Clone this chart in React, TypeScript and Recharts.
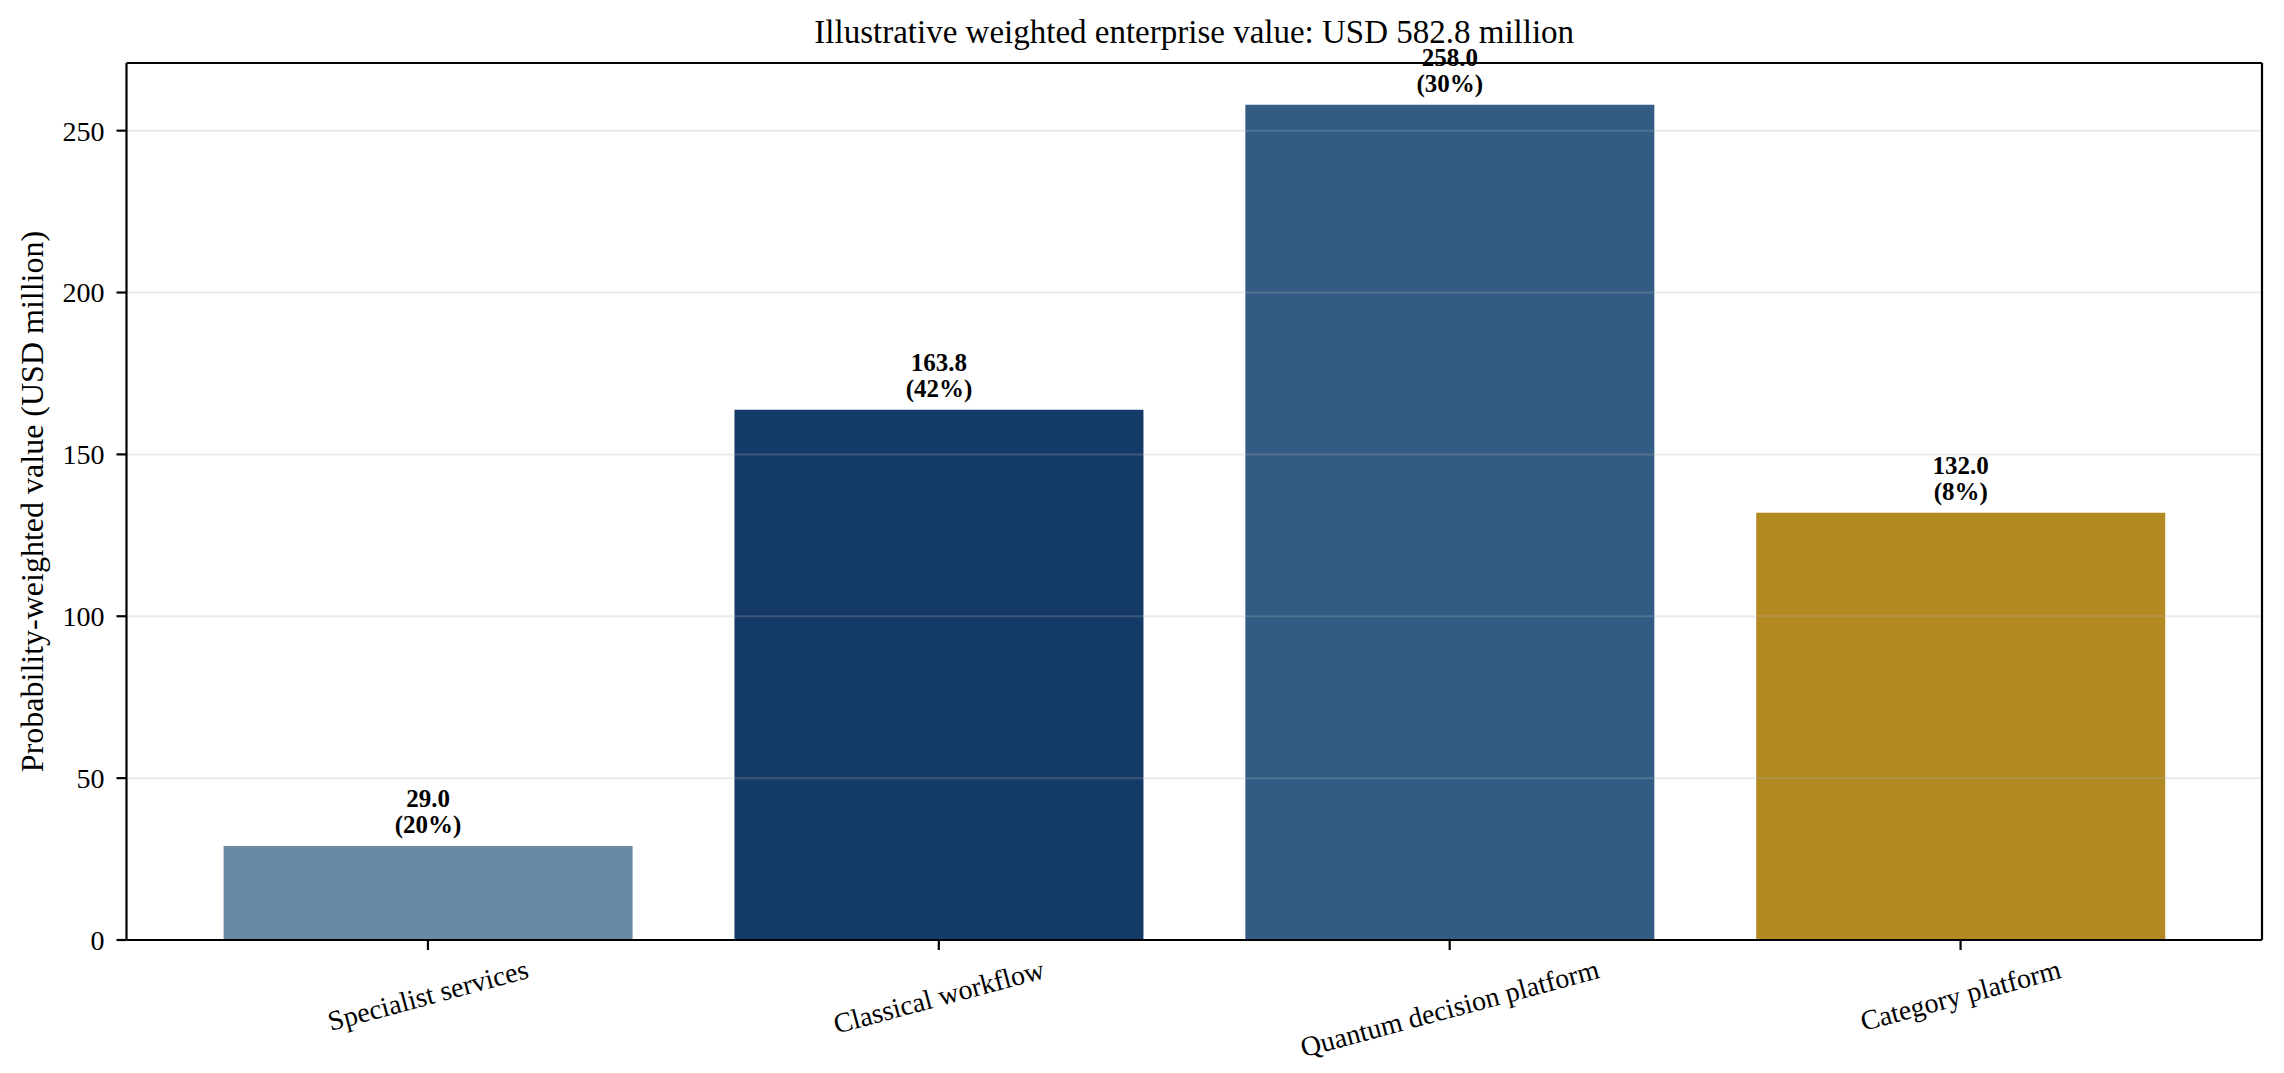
import React from 'react';
import {
  BarChart,
  Bar,
  XAxis,
  YAxis,
  Cell,
  LabelList,
  ReferenceLine,
} from 'recharts';

const categories = [
  'Specialist services',
  'Classical workflow',
  'Quantum decision platform',
  'Category platform',
];
const values = [29.0, 163.8, 258.0, 132.0];
const shares = ['20%', '42%', '30%', '8%'];
const barColors = ['#6a89a5', '#143a67', '#325c84', '#b38922'];
const yTicks = [0, 50, 100, 150, 200, 250];

const title = 'Illustrative weighted enterprise value: USD 582.8 million';
const yLabel = 'Probability-weighted value (USD million)';

const data = categories.map((name, i) => ({ name, value: values[i], share: shares[i] }));

const FONT = '"Liberation Serif", "Times New Roman", serif';
const W = 2284;
const H = 1073;

// matplotlib leaves 5% headroom above the tallest bar
const yMax = Math.max(...values) * 1.05;

let ctx: CanvasRenderingContext2D | null = null;
const textWidth = (s: string, size: number) => {
  if (!ctx) ctx = document.createElement('canvas').getContext('2d');
  if (!ctx) return s.length * size * 0.42;
  ctx.font = `${size}px ${FONT}`;
  return ctx.measureText(s).width;
};

const RotatedTick = (props: any) => {
  const { x, y, payload } = props;
  const size = 28;
  const w = textWidth(String(payload.value), size);
  const rad = (15 * Math.PI) / 180;
  // keep the top of the rotated box just under the tick, like matplotlib
  const cy = y + 5 + (w * Math.sin(rad) + 27) / 2;
  return (
    <text
      x={x}
      y={cy}
      textAnchor="middle"
      dominantBaseline="central"
      fontFamily={FONT}
      fontSize={size}
      fill="#000"
      transform={`rotate(-15, ${x}, ${cy})`}
    >
      {payload.value}
    </text>
  );
};

const BarLabel = (props: any) => {
  const { x, y, width, index } = props;
  const cx = x + width / 2;
  const base = y - 13;
  return (
    <g fontFamily={FONT} fontSize={25} fontWeight="bold" fill="#000" textAnchor="middle">
      <text x={cx} y={base - 26}>{values[index].toFixed(1)}</text>
      <text x={cx} y={base}>({shares[index]})</text>
    </g>
  );
};

const axisStroke = { stroke: '#000', strokeWidth: 2.2 };

const App = () => {
  return (
    <div style={{ position: 'absolute', left: 0, top: 0, width: W, height: H, background: '#fff' }}>
      <div
        style={{
          position: 'absolute',
          left: 126.5,
          top: 16,
          width: 2135.5,
          textAlign: 'center',
          fontFamily: FONT,
          fontSize: 33,
          lineHeight: '33px',
          color: '#000',
          whiteSpace: 'nowrap',
        }}
      >
        {title}
      </div>
      <BarChart
        width={W}
        height={H}
        data={data}
        margin={{ top: 62, right: 21, left: 0, bottom: 0 }}
        barCategoryGap="10%"
      >
        <XAxis
          dataKey="name"
          height={133}
          interval={0}
          padding={{ left: 46, right: 46 }}
          axisLine={axisStroke}
          tickLine={axisStroke}
          tickSize={10}
          tickMargin={0}
          tick={<RotatedTick />}
        />
        {/* top and right spines */}
        <XAxis
          xAxisId="top"
          dataKey="name"
          orientation="top"
          height={1}
          tick={false}
          tickLine={false}
          axisLine={axisStroke}
        />
        <YAxis
          width={126.5}
          domain={[0, yMax]}
          ticks={yTicks}
          allowDataOverflow
          axisLine={axisStroke}
          tickLine={axisStroke}
          tickSize={10}
          tickMargin={12}
          tick={{ fontFamily: FONT, fontSize: 28, fill: '#000' }}
          label={{
            value: yLabel,
            angle: -90,
            position: 'center',
            dx: -32,
            style: { fontFamily: FONT, fontSize: 32, fill: '#000', textAnchor: 'middle' },
          }}
        />
        <YAxis
          yAxisId="right"
          orientation="right"
          width={1}
          domain={[0, yMax]}
          tick={false}
          tickLine={false}
          axisLine={axisStroke}
        />
        <Bar dataKey="value" isAnimationActive={false}>
          {data.map((d, i) => (
            <Cell key={d.name} fill={barColors[i]} />
          ))}
          <LabelList dataKey="value" content={<BarLabel />} />
        </Bar>
        {yTicks.slice(1).map((t) => (
          <ReferenceLine
            key={t}
            y={t}
            stroke="#b0b0b0"
            strokeOpacity={0.25}
            strokeWidth={2}
            zIndex={350}
          />
        ))}
      </BarChart>
    </div>
  );
};

export default App;
